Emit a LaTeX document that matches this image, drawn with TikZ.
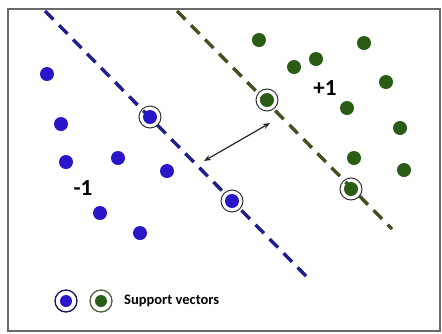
\documentclass[tikz,border=0pt]{standalone}
\usepackage{fontspec}
\newfontfamily\calfont{Carlito}
\usetikzlibrary{arrows.meta}
\definecolor{bdotc}{RGB}{40,22,200}
\definecolor{blinec}{RGB}{30,30,140}
\definecolor{gdotc}{RGB}{42,92,22}
\definecolor{glinec}{RGB}{62,82,32}
\definecolor{framec}{RGB}{105,105,105}
\tikzset{
  bdot/.style={circle,fill=bdotc,inner sep=0pt,minimum size=14pt},
  gdot/.style={circle,fill=gdotc,inner sep=0pt,minimum size=14pt},
  svring/.style={circle,draw=black!80,line width=1pt,inner sep=0pt,minimum size=22pt},
  bline/.style={draw=blinec,line width=3.4pt,dash pattern=on 12pt off 8pt},
  gline/.style={draw=glinec,line width=3.4pt,dash pattern=on 12pt off 8pt},
  lbl/.style={font=\calfont\bfseries\fontsize{23}{23}\selectfont,inner sep=0pt},
  legring/.style={circle,draw=#1,line width=1.3pt,fill=white,inner sep=0pt,minimum size=22pt},
}
\begin{document}
\begin{tikzpicture}[x=1pt,y=-1pt]
\useasboundingbox (0,0) rectangle (442,333);
\draw[framec,line width=1.6pt] (8,9) rectangle (440,331);
% hyperplanes
\coordinate (b1) at (45,11);
\coordinate (b2) at (309,279);
\coordinate (g1) at (177,11);
\coordinate (g2) at (392,229);
\draw[bline] (b1) -- (b2);
\draw[gline] (g1) -- (g2);
% blue points
\node[bdot] (p1) at (47,74) {};
\node[bdot] (p2) at (61,124) {};
\node[bdot] (p3) at (66,162) {};
\node[bdot] (p4) at (118,158) {};
\node[bdot] (p5) at (167,171) {};
\node[bdot] (p6) at (100,213) {};
\node[bdot] (p7) at (140,233) {};
\node[svring] (sb1r) at (150,117) {};
\node[bdot] (sb1) at (150,117) {};
\node[svring] (sb2r) at (232,201) {};
\node[bdot] (sb2) at (232,201) {};
% green points
\node[gdot] (q1) at (259,40) {};
\node[gdot] (q2) at (294,67) {};
\node[gdot] (q3) at (316,59) {};
\node[gdot] (q4) at (364,43) {};
\node[gdot] (q5) at (386,82) {};
\node[gdot] (q6) at (347,108) {};
\node[gdot] (q7) at (400,128) {};
\node[gdot] (q8) at (354,158) {};
\node[gdot] (q9) at (404,170) {};
\node[svring] (sg1r) at (267,100) {};
\node[gdot] (sg1) at (267,100) {};
\node[svring] (sg2r) at (351,189) {};
\node[gdot] (sg2) at (351,189) {};
% labels
\node[lbl] (plus) at (325,88) {+1};
\node[lbl] (minus) at (83,188) {-1};
% margin arrow
\coordinate (a1) at (204,161);
\coordinate (a2) at (270,123);
\draw[{Stealth[length=7pt,width=5.5pt]}-{Stealth[length=7pt,width=5.5pt]},line width=1.2pt,black!85] (a1) -- (a2);
% legend
\node[legring=blinec!60!black] (lb) at (66,301) {};
\node[bdot,minimum size=12pt] (lbd) at (66,301) {};
\node[legring=glinec!70!gray] (lg) at (101,301) {};
\node[gdot,minimum size=12pt] (lgd) at (101,301) {};
\node[anchor=west,inner sep=0pt,font=\calfont\bfseries\fontsize{14.5}{14.5}\selectfont] (leg) at (124,301) {Support vectors};
\end{tikzpicture}
\end{document}
